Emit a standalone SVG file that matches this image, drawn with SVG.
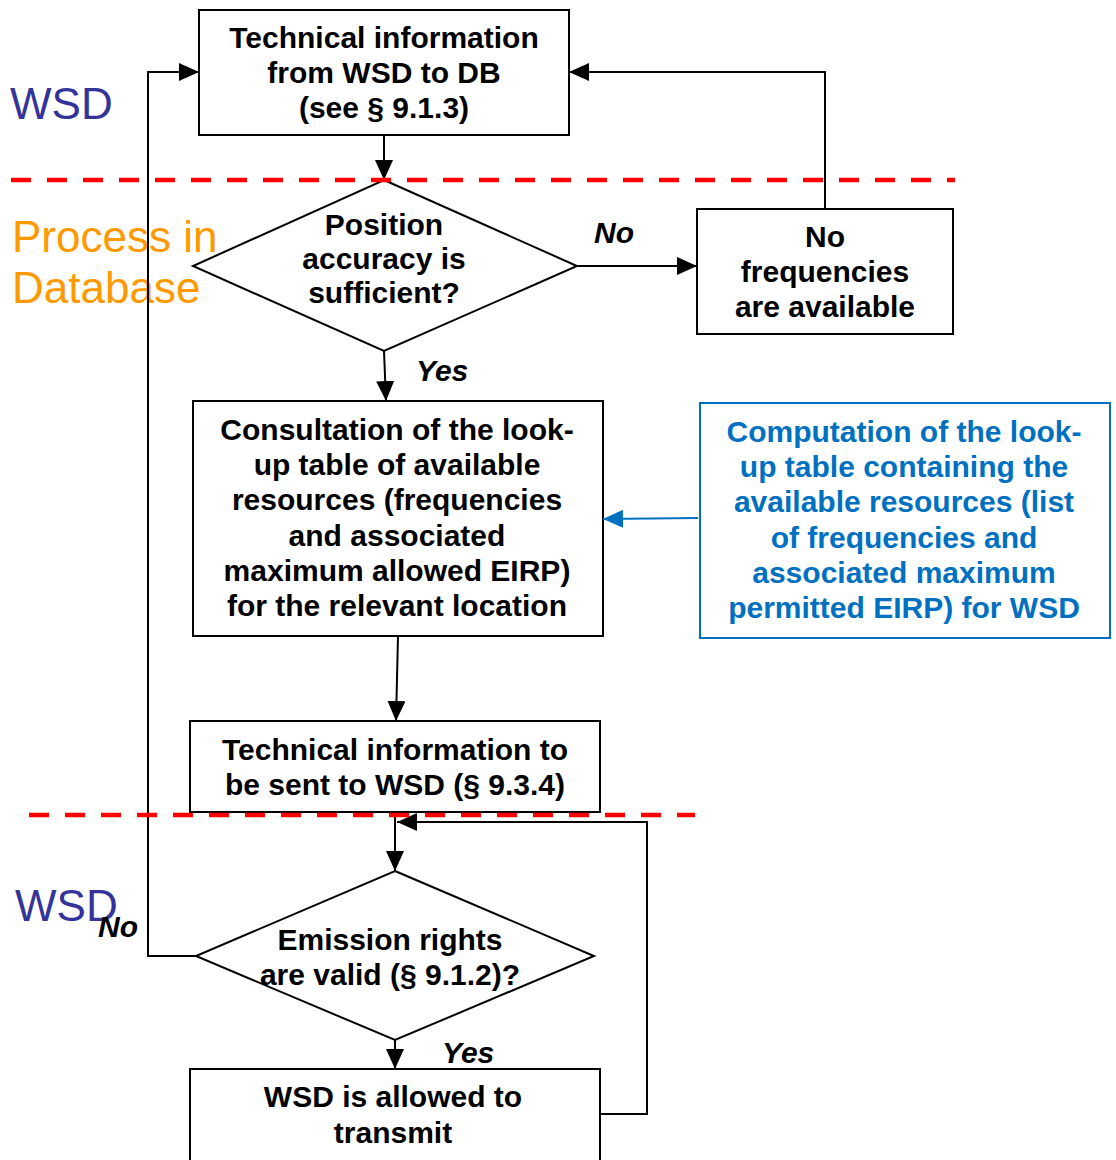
<svg xmlns="http://www.w3.org/2000/svg" width="1116" height="1160" viewBox="0 0 1116 1160">
<defs>
<style>
.box{fill:#fff;stroke:#000;stroke-width:2}
.bbox{fill:#fff;stroke:#0070C0;stroke-width:2}
.t{font-family:"Liberation Sans",Arial,sans-serif;font-weight:bold;font-size:30px;fill:#000;text-anchor:middle}
.bt{font-family:"Liberation Sans",Arial,sans-serif;font-weight:bold;font-size:30px;fill:#0070C0;text-anchor:middle}
.lbl{font-family:"Liberation Sans",Arial,sans-serif;font-weight:bold;font-style:italic;font-size:30px;fill:#000}
.lane{font-family:"Liberation Sans",Arial,sans-serif;font-size:44px}
.c{fill:none;stroke:#000;stroke-width:2}
.cb{fill:none;stroke:#0070C0;stroke-width:2}
.dash{stroke:#FF0000;stroke-width:4.5;stroke-dasharray:20 16;fill:none}
</style>
<marker id="ah" markerUnits="userSpaceOnUse" markerWidth="20" markerHeight="18" refX="20" refY="9" orient="auto">
<path d="M0,0 L20,9 L0,18 z" fill="#000"/>
</marker>
<marker id="ahb" markerUnits="userSpaceOnUse" markerWidth="20" markerHeight="18" refX="20" refY="9" orient="auto">
<path d="M0,0 L20,9 L0,18 z" fill="#0070C0"/>
</marker>
</defs>
<rect width="1116" height="1160" fill="#fff"/>

<g id="lanes">
<text class="lane" x="10" y="119" fill="#333399">WSD</text>
<text class="lane" x="12" y="252" fill="#FF9900">Process in</text>
<text class="lane" x="12" y="303" fill="#FF9900">Database</text>
<text class="lane" x="15" y="921" fill="#333399">WSD</text>
</g>

<g id="n1">
<rect class="box" x="199" y="10" width="370" height="125"/>
<text class="t" x="384" y="48">Technical information</text>
<text class="t" x="384" y="83">from WSD to DB</text>
<text class="t" x="384" y="118">(see § 9.1.3)</text>
</g>

<g id="d1">
<polygon class="box" points="384,180 577,266 384,351 193,266"/>
<text class="t" x="384" y="235">Position</text>
<text class="t" x="384" y="269">accuracy is</text>
<text class="t" x="384" y="303">sufficient?</text>
</g>

<g id="n2">
<rect class="box" x="697" y="209" width="256" height="125"/>
<text class="t" x="825" y="247">No</text>
<text class="t" x="825" y="282">frequencies</text>
<text class="t" x="825" y="317">are available</text>
</g>

<g id="n3">
<rect class="box" x="193" y="401" width="410" height="235"/>
<text class="t" x="397" y="440">Consultation of the look-</text>
<text class="t" x="397" y="475">up table of available</text>
<text class="t" x="397" y="510">resources (frequencies</text>
<text class="t" x="397" y="546">and associated</text>
<text class="t" x="397" y="581">maximum allowed EIRP)</text>
<text class="t" x="397" y="616">for the relevant location</text>
</g>

<g id="n4">
<rect class="bbox" x="700" y="403" width="410" height="235"/>
<text class="bt" x="904" y="442">Computation of the look-</text>
<text class="bt" x="904" y="477">up table containing the</text>
<text class="bt" x="904" y="512">available resources (list</text>
<text class="bt" x="904" y="548">of frequencies and</text>
<text class="bt" x="904" y="583">associated maximum</text>
<text class="bt" x="904" y="618">permitted EIRP) for WSD</text>
</g>

<g id="n5">
<rect class="box" x="190" y="721" width="410" height="91"/>
<text class="t" x="395" y="760">Technical information to</text>
<text class="t" x="395" y="795">be sent to WSD (§ 9.3.4)</text>
</g>

<g id="d2">
<polygon class="box" points="395,871 594,956 395,1040 196,956"/>
<text class="t" x="390" y="950">Emission rights</text>
<text class="t" x="390" y="985">are valid (§ 9.1.2)?</text>
</g>

<g id="n6">
<rect class="box" x="190" y="1069" width="410" height="100"/>
<text class="t" x="393" y="1107">WSD is allowed to</text>
<text class="t" x="393" y="1143">transmit</text>
</g>

<g id="connectors">
<path class="c" d="M384,135 L384,180" marker-end="url(#ah)"/>
<path class="c" d="M577,266 L697,266" marker-end="url(#ah)"/>
<path class="c" d="M825,209 L825,72 L569,72" marker-end="url(#ah)"/>
<path class="c" d="M384,351 L386,401" marker-end="url(#ah)"/>
<path class="cb" d="M698,518 L603,519" marker-end="url(#ahb)"/>
<path class="c" d="M398,636 L396,721" marker-end="url(#ah)"/>
<path class="c" d="M395,812 L395,871" marker-end="url(#ah)"/>
<path class="c" d="M196,956 L148,956 L148,72 L199,72" marker-end="url(#ah)"/>
<path class="c" d="M395,1040 L395,1069" marker-end="url(#ah)"/>
<path class="c" d="M600,1114 L647,1114 L647,822 L397,822" marker-end="url(#ah)"/>
<text class="lbl" x="594" y="243">No</text>
<text class="lbl" x="416" y="381">Yes</text>
<text class="lbl" x="98" y="937">No</text>
<text class="lbl" x="442" y="1063">Yes</text>
</g>

<g id="separators">
<line class="dash" x1="11" y1="180" x2="955" y2="180"/>
<line class="dash" x1="29" y1="815" x2="695" y2="815"/>
</g>
</svg>
